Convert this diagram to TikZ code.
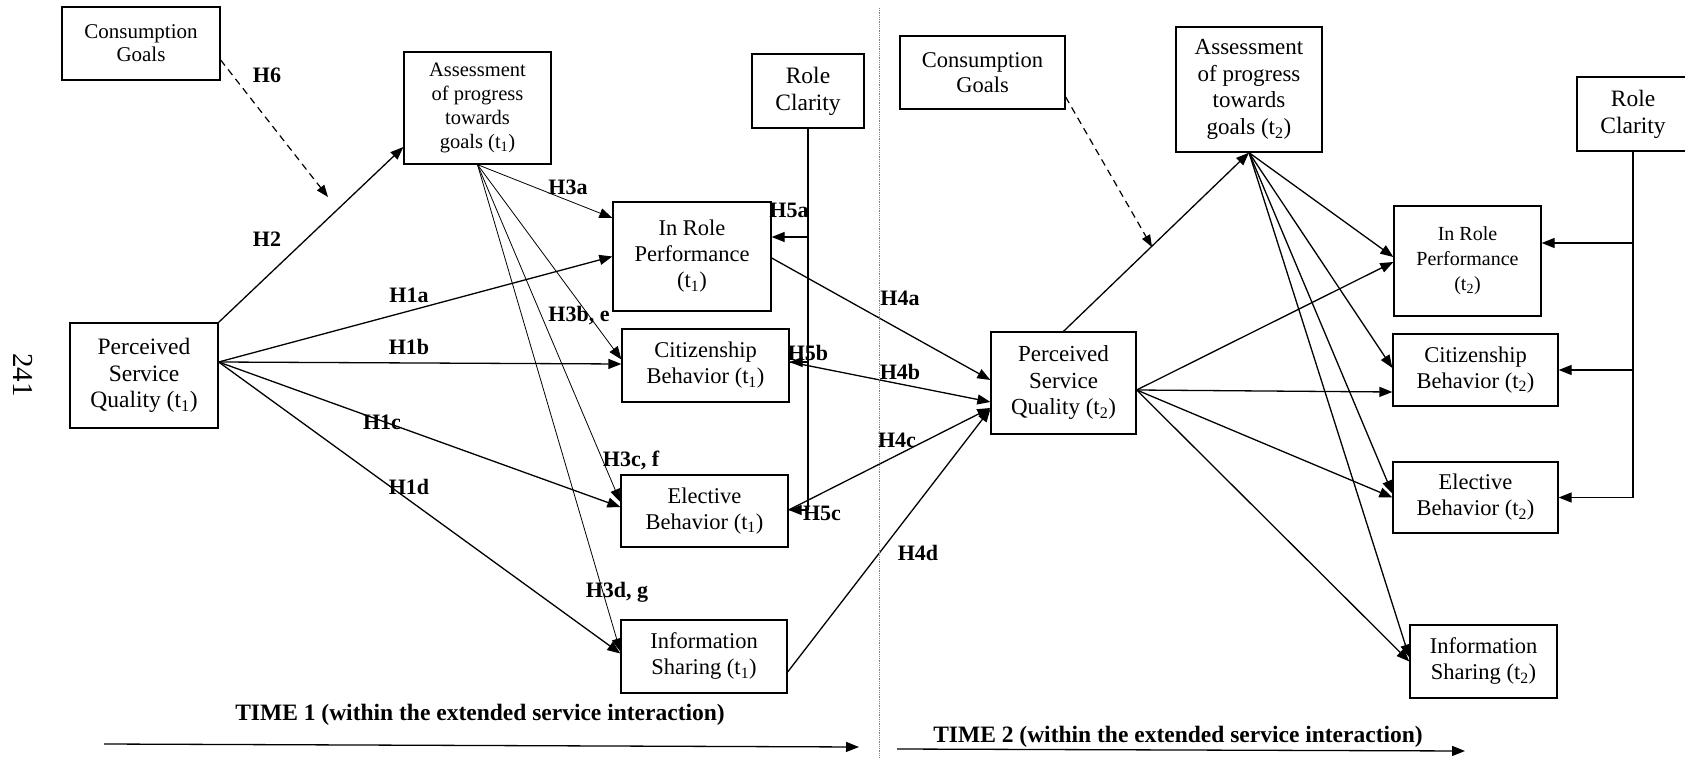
\documentclass[tikz,border=0pt]{standalone}
\usepackage{fontspec}
\setmainfont{Liberation Serif}
\usetikzlibrary{arrows.meta}
\begin{document}
\begin{tikzpicture}[x=1pt,y=-1pt,
  box/.style={draw, line width=1.3pt, align=center, inner sep=0pt},
  fa/.style={font=\fontsize{22.5}{26}\selectfont},
  lab/.style={font=\bfseries\fontsize{22}{24}\selectfont, inner sep=0pt},
  tlab/.style={font=\bfseries\fontsize{23.5}{26}\selectfont, inner sep=0pt},
  arr/.style={line width=1.3pt, -{Triangle[length=13pt,width=10pt]}},
  tarr/.style={line width=0.8pt, -{Triangle[length=13pt,width=10pt]}},
  plain/.style={line width=1.3pt},
  dsh/.style={line width=1.2pt, dash pattern=on 7pt off 5pt, -{Triangle[length=12pt,width=9pt]}}]
\useasboundingbox[fill=white] (0,0) rectangle (1685,759);

% page number
\node[rotate=-90, font=\fontsize{29}{30}\selectfont] (pg) at (23,375) {241};

% ---------- TIME 1 boxes ----------
\node[box, minimum width=158pt, minimum height=73pt, font=\fontsize{21}{23}\selectfont] (cg1) at (141,43.5) {Consumption\\Goals};
\node[box, minimum width=147pt, minimum height=112pt, font=\fontsize{20.5}{24}\selectfont] (at1) at (477.5,108) {Assessment\\of progress\\towards\\goals (t\textsubscript{1})};
\node[box, minimum width=112pt, minimum height=74pt, font=\fontsize{23.5}{27}\selectfont] (rc1) at (808,91) {Role\\Clarity};
\node[box, minimum width=148pt, minimum height=105pt, font=\fontsize{23.5}{26.5}\selectfont] (pq1) at (144,375.5) {Perceived\\Service\\Quality (t\textsubscript{1})};
\node[box, fa, minimum width=158pt, minimum height=109pt] (ir1) at (692,256.5) {In Role\\Performance\\(t\textsubscript{1})};
\node[box, fa, minimum width=167pt, minimum height=73pt] (cb1) at (705.5,365.5) {Citizenship\\Behavior (t\textsubscript{1})};
\node[box, fa, minimum width=167pt, minimum height=72pt] (eb1) at (704.5,511) {Elective\\Behavior (t\textsubscript{1})};
\node[box, fa, minimum width=166pt, minimum height=73pt] (is1) at (704,656.5) {Information\\Sharing (t\textsubscript{1})};

% ---------- TIME 2 boxes ----------
\node[box, minimum width=165pt, minimum height=73pt, font=\fontsize{22.5}{25}\selectfont] (cg2) at (982.5,72.5) {Consumption\\Goals};
\node[box, minimum width=146pt, minimum height=125pt, font=\fontsize{23}{26.5}\selectfont] (at2) at (1249,89.5) {Assessment\\of progress\\towards\\goals (t\textsubscript{2})};
\node[box, minimum width=112pt, minimum height=74pt, font=\fontsize{23.5}{27}\selectfont] (rc2) at (1633,114) {Role\\Clarity};
\node[box, minimum width=145pt, minimum height=102pt, font=\fontsize{23}{26.5}\selectfont] (pq2) at (1063.5,383) {Perceived\\Service\\Quality (t\textsubscript{2})};
\node[box, minimum width=147pt, minimum height=110pt, font=\fontsize{20}{25}\selectfont] (ir2) at (1467.5,261) {In Role\\Performance\\(t\textsubscript{2})};
\node[box, fa, minimum width=165pt, minimum height=72pt] (cb2) at (1475.5,370) {Citizenship\\Behavior (t\textsubscript{2})};
\node[box, fa, minimum width=165pt, minimum height=71pt] (eb2) at (1475.5,497.5) {Elective\\Behavior (t\textsubscript{2})};
\node[box, fa, minimum width=147pt, minimum height=73pt] (is2) at (1483.5,661.5) {Information\\Sharing (t\textsubscript{2})};

% ---------- helper coordinates ----------
\coordinate (h6end) at (328,197);
\coordinate (h6bend) at (1152,247);
\coordinate (p1s) at ([yshift=13.5pt]pq1.east);
\coordinate (p2s) at ([yshift=-7pt]pq2.east);
\coordinate (a5a) at ([yshift=19.5pt]ir1.east);
\coordinate (a5b) at ([yshift=3.5pt]cb1.east);
\coordinate (a5c) at ([yshift=1pt]eb1.east);
\coordinate (b5a) at ([yshift=18pt]ir2.east);
\coordinate (b5b) at (cb2.east);
\coordinate (b5c) at (eb2.east);
\coordinate (dtop) at (879,8);
\coordinate (dbot) at (879,759);
\coordinate (t1a) at (104,744);
\coordinate (t1b) at (859,747);
\coordinate (t2a) at (897,749);
\coordinate (t2b) at (1465,751);

% ---------- TIME 1 connectors ----------
\draw[dsh] ([yshift=-16.5pt]cg1.east) -- (h6end);
\draw[arr] (pq1.north east) -- ([yshift=-39pt]at1.west);
\draw[arr] (p1s) -- (ir1.west);
\draw[arr] (p1s) -- ([yshift=1.5pt]cb1.west);
\draw[arr] (p1s) -- ([yshift=4pt]eb1.west);
\draw[arr] (p1s) -- ([yshift=3pt]is1.west);
\draw[tarr] (at1.south) -- ([yshift=38.5pt]ir1.west);
\draw[tarr] (at1.south) -- ([yshift=6pt]cb1.west);
\draw[tarr] (at1.south) -- ([yshift=9pt]eb1.west);
\draw[tarr] (at1.south) -- ([yshift=5pt]is1.west);
\draw[plain] (rc1.south) -- (rc1.south |- a5c);
\draw[arr] (rc1.south |- a5a) -- (a5a);
\draw[arr] (rc1.south |- a5b) -- (a5b);
\draw[arr] (rc1.south |- a5c) -- (a5c);

% ---------- H4 connectors ----------
\draw[arr] ([yshift=-1.5pt]ir1.east) -- ([yshift=3pt]pq2.west);
\draw[arr] (a5b) -- ([yshift=-19pt]pq2.west);
\draw[arr] (a5c) -- ([yshift=-25pt]pq2.west);
\draw[arr] ([yshift=-15.5pt]is1.east) -- ([yshift=-26pt]pq2.west);

% ---------- TIME 2 connectors ----------
\draw[dsh] ([yshift=-24.5pt]cg2.east) -- (h6bend);
\draw[arr] (pq2.north) -- (at2.south);
\draw[arr] (at2.south) -- ([yshift=4pt]ir2.west);
\draw[arr] (at2.south) -- ([yshift=2pt]cb2.west);
\draw[arr] (at2.south) -- ([yshift=4pt]eb2.west);
\draw[arr] (at2.south) -- ([yshift=4pt]is2.west);
\draw[arr] (p2s) -- ([yshift=-1pt]ir2.west);
\draw[arr] (p2s) -- ([yshift=-22pt]cb2.west);
\draw[arr] (p2s) -- (eb2.west);
\draw[arr] (p2s) -- (is2.west);
\draw[plain] (rc2.south) -- (rc2.south |- b5c);
\draw[arr] (rc2.south |- b5a) -- (b5a);
\draw[arr] (rc2.south |- b5b) -- (b5b);
\draw[arr] (rc2.south |- b5c) -- (b5c);

% ---------- divider and time arrows ----------
\draw[densely dotted, gray, line width=0.8pt] (dtop) -- (dbot);
\draw[arr] (t1a) -- (t1b);
\draw[arr] (t2a) -- (t2b);

% ---------- labels ----------
\node[lab] (lh6) at (267,75) {H6};
\node[lab] (lh2) at (267,239) {H2};
\node[lab] (lh1a) at (409,295) {H1a};
\node[lab] (lh1b) at (409,347) {H1b};
\node[lab] (lh1c) at (382,422) {H1c};
\node[lab] (lh1d) at (409,487) {H1d};
\node[lab] (lh3a) at (568,187) {H3a};
\node[lab] (lh3b) at (579,316) {H3b, e};
\node[lab] (lh3c) at (631,460) {H3c, f};
\node[lab] (lh3d) at (617,592) {H3d, g};
\node[lab] (lh5a) at (789,210) {H5a};
\node[lab] (lh5b) at (808,353) {H5b};
\node[lab] (lh5c) at (822,513) {H5c};
\node[lab] (lh4a) at (900,298) {H4a};
\node[lab] (lh4b) at (900,372) {H4b};
\node[lab] (lh4c) at (897,440) {H4c};
\node[lab] (lh4d) at (918,553) {H4d};
\node[tlab] (time1) at (480,715) {TIME 1 (within the extended service interaction)};
\node[tlab] (time2) at (1178,737) {TIME 2 (within the extended service interaction)};
\end{tikzpicture}
\end{document}
